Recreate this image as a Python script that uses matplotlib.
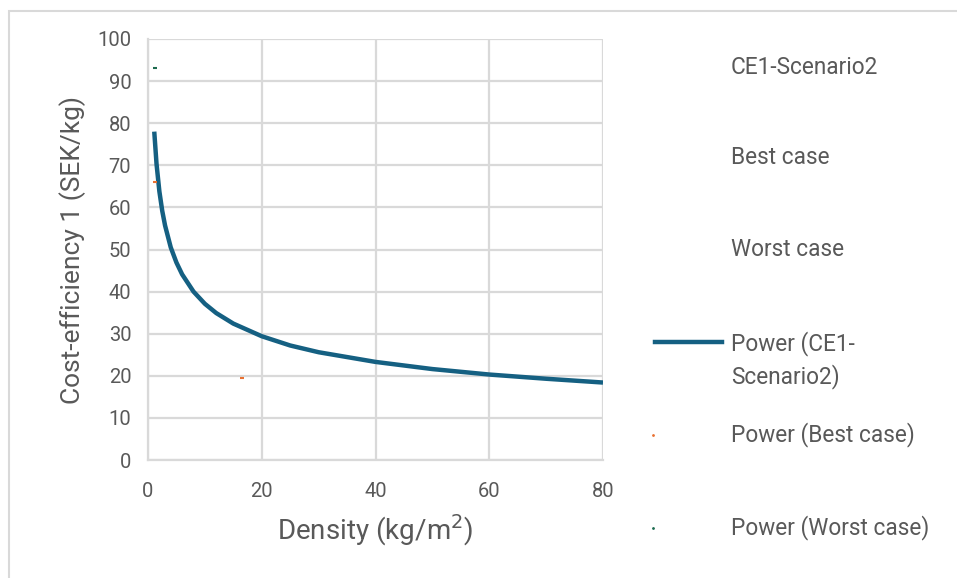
import matplotlib
matplotlib.use("Agg")
import matplotlib.pyplot as plt
import matplotlib.patches as patches
from matplotlib.lines import Line2D

plt.rcParams['font.family'] = ['Roboto', 'DejaVu Sans']

# Power trendline for CE1-Scenario2
density = [1.1, 1.5, 2, 2.5, 3, 4, 5, 6, 8, 10, 12, 15, 20, 25, 30, 40, 50, 60, 70, 80]
ce1 = [78.0, 70.3, 63.8, 59.2, 55.7, 50.5, 46.9, 44.1, 40.0, 37.1, 34.9, 32.4,
       29.4, 27.2, 25.6, 23.3, 21.6, 20.3, 19.3, 18.4]

# the tiny marks left by the other two trendlines
best_x = [1.2, 16.6]
best_y = [66.0, 19.4]
worst_x = [1.3]
worst_y = [93.0]

legend_labels = ["CE1-Scenario2", "Best case", "Worst case",
                 "Power (CE1-\nScenario2)", "Power (Best case)", "Power (Worst case)"]

blue = "#156082"
orange = "#E97132"
green = "#1D6B4F"
grey = "#595959"
gridc = "#d9d9d9"

fig = plt.figure(figsize=(9.57, 5.78), dpi=100)
ax = fig.add_axes([148/957, 1-460/578, 455/957, 421/578])

ax.plot(density, ce1, color=blue, lw=3.2, solid_capstyle='butt', zorder=3)
ax.plot(best_x, best_y, ls='none', marker='_', ms=3, mew=1.5, color=orange, zorder=3)
ax.plot(worst_x, worst_y, ls='none', marker='_', ms=3, mew=1.5, color=green, zorder=3)

ax.set_xlim(0, 80)
ax.set_ylim(0, 100)
ax.set_xticks(range(0, 81, 20))
ax.set_yticks(range(0, 101, 10))
ax.grid(True, color=gridc, lw=1.6)
ax.set_axisbelow(True)
for s in ['top', 'right']:
    ax.spines[s].set_visible(False)
for s in ['left', 'bottom']:
    ax.spines[s].set_color(gridc)
    ax.spines[s].set_linewidth(1.6)
ax.tick_params(length=0, labelsize=14.5, labelcolor=grey)
ax.tick_params(axis='x', pad=16)
ax.tick_params(axis='y', pad=12)
ax.set_xlabel("Density (kg/m$^2$)", fontsize=20, color=grey, labelpad=8)
ax.set_ylabel("Cost-efficiency 1 (SEK/kg)", fontsize=19, color=grey, labelpad=8)

# legend drawn by hand to match the spacing of the original
legend_y = [67, 158, 250, 360, 435, 528]
handles = [None, None, None,
           dict(color=blue, lw=3.2),
           dict(color=orange, marker='.', ms=2, ls='none'),
           dict(color=green, marker='.', ms=2, ls='none')]
for lab, yp, h in zip(legend_labels, legend_y, handles):
    fig.text(731/957, 1-yp/578, lab, fontsize=16.3, color=grey, va='center',
             linespacing=1.4)
    if h is None:
        continue
    yy = 1-(yp if '\n' not in lab else 342)/578
    if h.get('ls') == 'none':
        fig.add_artist(Line2D([653/957], [yy], transform=fig.transFigure, **h))
    else:
        fig.add_artist(Line2D([655/957, 722/957], [yy, yy], transform=fig.transFigure, **h))

# chart area border (runs off the right and bottom edges)
fig.add_artist(patches.Rectangle((9/957, -0.05), 1.0, 1-11/578+0.05,
                                 transform=fig.transFigure, fill=False,
                                 edgecolor=gridc, lw=1.5))

fig.savefig("out.png", dpi=100)
